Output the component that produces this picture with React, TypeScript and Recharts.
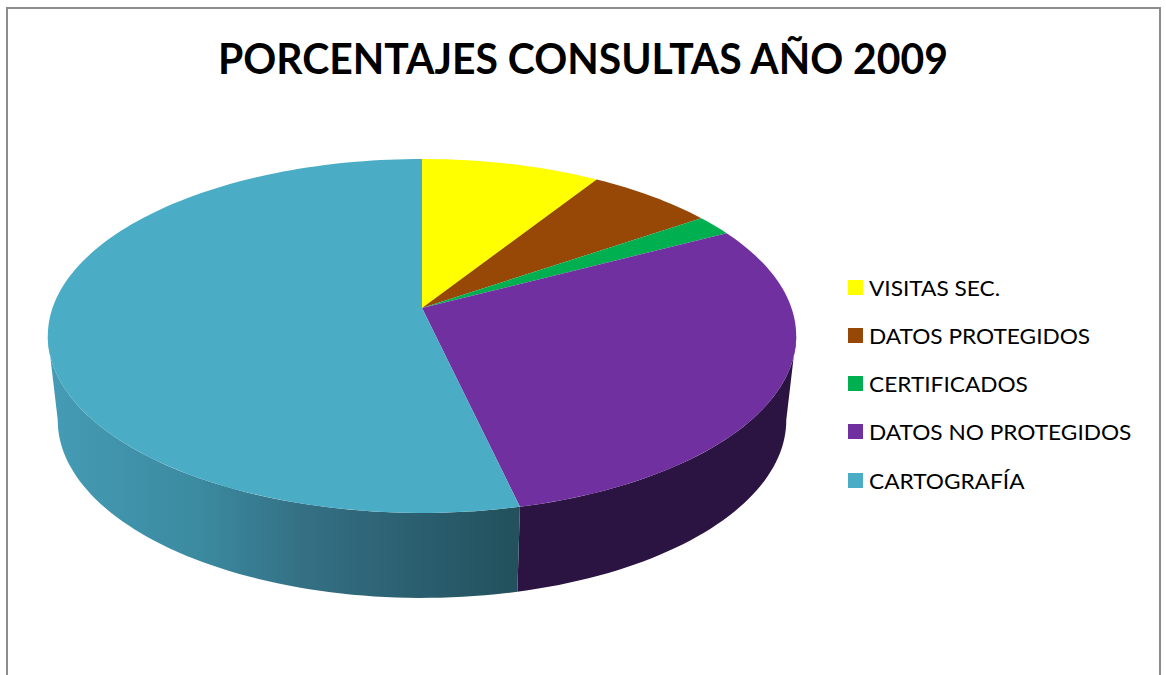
import { Legend, Pie, PieChart } from "recharts";

const categories = ["VISITAS SEC.", "DATOS PROTEGIDOS", "CERTIFICADOS", "DATOS NO PROTEGIDOS", "CARTOGRAFÍA"];
const shares = [9, 6.4, 1.9, 29.1, 53.6];
const colors = ["#ffff00", "#974706", "#00b050", "#7030a0", "#4bacc6"];

const table = categories.map((name, i) => ({ name, value: shares[i], fill: colors[i] }));

// perspective of the tilted disc: how much nearer points are stretched
const TILT = 0.158;
const FLATTEN = 0.467;
const BOTTOM_SCALE = 0.9735;
const BOTTOM_FLATTEN = 0.482;
const BOTTOM_DROP = 84;
// the side is only visible between the two silhouette points of the ellipse
const SIDE_FROM = 99;
const SIDE_TO = 261;

function project(cx: number, cy: number, r: number, flatten: number, deg: number) {
  const t = (deg * Math.PI) / 180;
  const u = Math.sin(t);
  const v = Math.cos(t);
  const w = 1 + TILT * v;
  return [cx + (r * u) / w, cy - (r * flatten * v) / w];
}

function arc(cx: number, cy: number, r: number, flatten: number, from: number, to: number) {
  const steps = Math.max(2, Math.ceil(Math.abs(to - from) / 1.5));
  const pts: string[] = [];
  for (let i = 0; i <= steps; i++) {
    const p = project(cx, cy, r, flatten, from + ((to - from) * i) / steps);
    pts.push(`${p[0].toFixed(2)},${p[1].toFixed(2)}`);
  }
  return pts;
}

function DiscSlice(props: any) {
  const { cx, cy, outerRadius, startAngle, endAngle, fill, name } = props;
  const from = 90 - startAngle;
  const to = 90 - endAngle;
  const top = "M" + cx + "," + cy + " L" + arc(cx, cy, outerRadius, FLATTEN, from, to).join(" L") + " Z";

  const a = Math.max(from, SIDE_FROM);
  const b = Math.min(to, SIDE_TO);
  let side = null;
  if (b > a) {
    const r2 = outerRadius * BOTTOM_SCALE;
    const upper = arc(cx, cy, outerRadius, FLATTEN, a, b);
    const lower = arc(cx, cy + BOTTOM_DROP, r2, BOTTOM_FLATTEN, b, a);
    side = "M" + upper.concat(lower).join(" L") + " Z";
  }
  const isBlue = name === "CARTOGRAFÍA";
  return (
    <g>
      {isBlue && (
        <defs>
          <linearGradient id="sideBlue" gradientUnits="userSpaceOnUse" x1={47} x2={521} y1={0} y2={0}>
            <stop offset="0" stopColor="#459cb5" />
            <stop offset="0.32" stopColor="#3b8aa0" />
            <stop offset="0.55" stopColor="#346f83" />
            <stop offset="0.75" stopColor="#2c6172" />
            <stop offset="1" stopColor="#22505c" />
          </linearGradient>
        </defs>
      )}
      {side && <path d={side} fill={isBlue ? "url(#sideBlue)" : "#2c1442"} />}
      <path d={top} fill={fill} />
    </g>
  );
}

function LegendList({ payload }: any) {
  return (
    <div>
      {(payload || []).map((entry: any) => (
        <div key={entry.value} style={{ display: "flex", alignItems: "center", height: 48.25 }}>
          <span style={{ width: 15, height: 15, background: entry.color, flex: "none" }} />
          <span
            style={{
              marginLeft: 6,
              fontFamily: "Lato",
              fontSize: 22,
              color: "#000",
              whiteSpace: "nowrap",
              transform: "scaleX(1.03)",
              transformOrigin: "left center",
            }}
          >
            {entry.value}
          </span>
        </div>
      ))}
    </div>
  );
}

export default function App() {
  return (
    <div style={{ position: "absolute", left: 0, top: 0, width: 1166, height: 675, overflow: "hidden", background: "#fff" }}>
      <div
        style={{
          position: "absolute",
          left: 6,
          top: 7,
          width: 1151,
          height: 675,
          border: "2px solid #8c8c8c",
          borderBottom: "none",
        }}
      />
      <PieChart
        width={1166}
        height={675}
        margin={{ top: 0, right: 0, bottom: 0, left: 0 }}
        style={{ position: "absolute", left: 0, top: 0 }}
      >
        <text
          x={583}
          y={74}
          textAnchor="middle"
          textLength={730}
          lengthAdjust="spacingAndGlyphs"
          style={{ fontFamily: "Lato", fontWeight: 700, fontSize: 42, fill: "#000" }}
        >
          PORCENTAJES CONSULTAS AÑO 2009
        </text>
        <Pie
          data={table}
          dataKey="value"
          nameKey="name"
          cx={422}
          cy={308}
          outerRadius={369.5}
          startAngle={90}
          endAngle={-270}
          stroke="none"
          shape={DiscSlice}
          isAnimationActive={false}
        />
        <Legend
          layout="vertical"
          content={LegendList}
          itemSorter={null}
          wrapperStyle={{ left: 848, top: 263, width: 300, bottom: "auto", right: "auto" }}
        />
      </PieChart>
    </div>
  );
}
